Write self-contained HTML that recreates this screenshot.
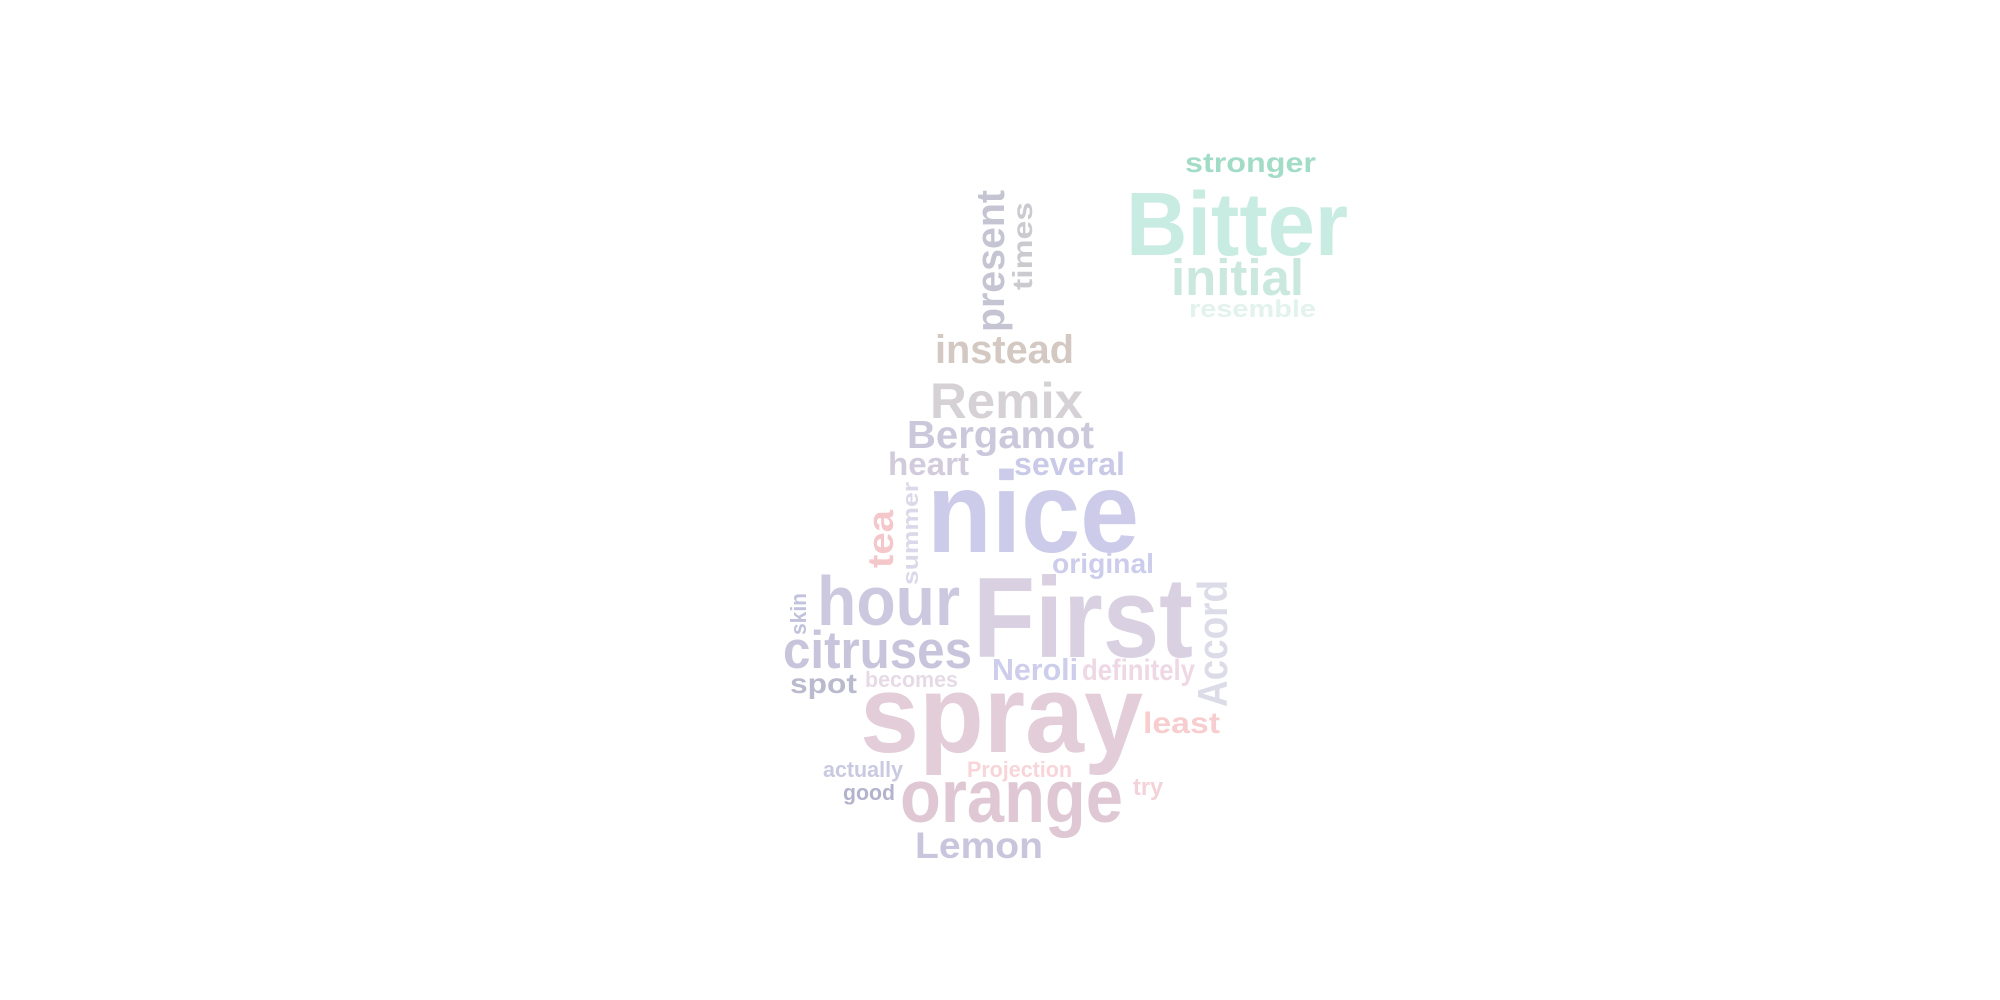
<!DOCTYPE html>
<html><head><meta charset="utf-8"><style>
html,body{margin:0;padding:0;background:#fff;width:2000px;height:1000px;overflow:hidden}
svg{display:block}
text{font-family:"Liberation Sans",sans-serif;font-weight:bold}
</style></head><body>
<svg id="cloud" width="2000" height="1000" viewBox="0 0 2000 1000"></svg>
<script>
const words=["stronger","Bitter","initial","resemble","present","times","instead","Remix","Bergamot","heart","several","nice","original","tea","summer","hour","First","Accord","skin","citruses","Neroli","definitely","spot","becomes","spray","least","actually","Projection","good","try","orange","Lemon"];
const fontSizes=[28,90,51,24,40,28,40,50,39,32,32,115,28,36,22,70,114,42,22,53,31,30,28,22,110,30,22,22,22,24,75,37];
const colors=["#a3dcc6","#c8ece1","#cbe8df","#e2f2ed","#c4c4d2","#cbcbcf","#d3c8c2","#d5d1d5","#ccc8dc","#d1cbdc","#c9c9e8","#ccccea","#ccccec","#f4c8cb","#d9d9e9","#ccc8e0","#d9d1e1","#dcdce8","#c2c2dc","#c8c4dc","#cdcdec","#eed8e4","#babace","#e6dae6","#e3cdd9","#f8cdcf","#c9c9e1","#f8d5d9","#b3b3cd","#f4d2da","#dfc8d3","#c9c5dd"];
const rotated=[0,0,0,0,1,1,0,0,0,0,0,0,0,1,1,0,0,1,1,0,0,0,0,0,0,0,0,0,0,0,0,0];
// layout: x/left (or baseline x for rotated), baseline y (or bottom y for rotated), rendered length
const layoutX=[1185,1126,1171,1189,1004,1032,935,930,907,888,1014,927,1052,893,918,817,973,1227,806,783,992,1082,790,865,860,1143,823,967,843,1133,900,915];
const layoutY=[172,255,295,317,332,290,363,418,448,475,475,552,573,568,585,625,657,707,635,668,680,680,693,687,752,733,777,777,800,795,822,858];
const layoutL=[131,222,133,127,142,88,139,153,187,81,111,212,102,58,103,143,220,127,42,189,86,113,67,93,283,77,80,105,52,30,223,128];
const svg=document.getElementById('cloud');
const NS='http://www.w3.org/2000/svg';
for(let i=0;i<words.length;i++){
  const t=document.createElementNS(NS,'text');
  t.textContent=words[i];
  t.setAttribute('font-size',fontSizes[i]);
  t.setAttribute('fill',colors[i]);
  t.setAttribute('textLength',layoutL[i]);
  t.setAttribute('lengthAdjust','spacingAndGlyphs');
  if(rotated[i]){
    t.setAttribute('x',0);t.setAttribute('y',0);
    t.setAttribute('transform','translate('+layoutX[i]+','+layoutY[i]+') rotate(-90)');
  }else{
    t.setAttribute('x',layoutX[i]);t.setAttribute('y',layoutY[i]);
  }
  
  
  svg.appendChild(t);
}
</script>
</body></html>
